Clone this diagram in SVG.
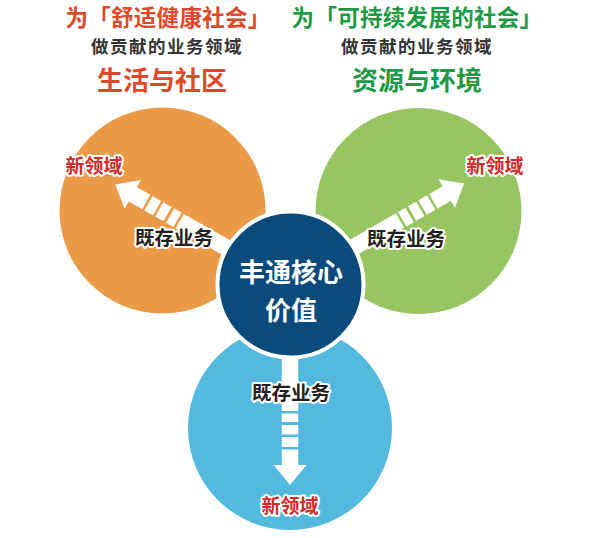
<svg xmlns="http://www.w3.org/2000/svg" width="592" height="538" viewBox="0 0 592 538">
<defs>
<style>
text{font-family:"Noto Sans CJK SC","Noto Sans",sans-serif;font-weight:bold;text-anchor:middle}
.t1{font-size:22.5px;letter-spacing:0.3px}
.red{fill:#e0482a}
.grn{fill:#1e9a45}
.sub{font-size:17.5px;fill:#333333;letter-spacing:1.5px}
.big{font-size:26px}
.lbl{font-size:19.5px;fill:#231f20;stroke:#ffffff;stroke-width:4;stroke-linejoin:round;paint-order:stroke}
.new{font-size:19px;fill:#d42a2a;stroke:#ffffff;stroke-width:4;stroke-linejoin:round;paint-order:stroke}
.core{font-size:26px;fill:#ffffff}
.arw{fill:#ffffff}
</style>
<g id="arrowShape">
<rect x="0" y="-8.25" width="127" height="16.5"/>
<rect x="129.5" y="-8.25" width="8.5" height="16.5"/>
<rect x="141" y="-8.25" width="9.5" height="16.5"/>
<rect x="153" y="-8.25" width="10" height="16.5"/>
<rect x="165.5" y="-8.25" width="16" height="16.5"/>
<polygon points="181,-16.5 201,0 181,16.5"/>
</g>
</defs>
<rect width="592" height="538" fill="#ffffff"/>
<g id="title-left">
<text class="t1 red" x="168" y="26.2">为「舒适健康社会」</text>
<text class="sub" x="167" y="53">做贡献的业务领域</text>
<text class="big red" x="162" y="90">生活与社区</text>
</g>
<g id="title-right">
<text class="t1 grn" x="417" y="26.2">为「可持续发展的社会」</text>
<text class="sub" x="417" y="53">做贡献的业务领域</text>
<text class="big grn" x="417" y="90">资源与环境</text>
</g>
<g id="circle-life">
<circle cx="162.5" cy="210.5" r="103" fill="#eb9b48"/>
</g>
<g id="circle-resource">
<circle cx="418.5" cy="211" r="103" fill="#97c561"/>
</g>
<g id="circle-other">
<circle cx="290" cy="428" r="102" fill="#54b9df"/>
</g>
<g id="connectors" class="arw">
<use href="#arrowShape" transform="translate(290,284) rotate(209.7)"/>
<use href="#arrowShape" transform="translate(290,284) rotate(-30)"/>
<use href="#arrowShape" transform="translate(290,284) rotate(90)"/>
</g>
<g id="core">
<circle cx="290.5" cy="284.5" r="73" fill="#0b4a7c" stroke="#ffffff" stroke-width="4"/>
<text class="core" x="291" y="282">丰通核心</text>
<text class="core" x="291" y="320">价值</text>
</g>
<g id="labels">
<text class="lbl" x="174" y="245">既存业务</text>
<text class="lbl" x="406" y="246">既存业务</text>
<text class="lbl" x="291" y="400">既存业务</text>
<text class="new" x="94" y="173">新领域</text>
<text class="new" x="495" y="173">新领域</text>
<text class="new" x="290" y="513">新领域</text>
</g>
</svg>
